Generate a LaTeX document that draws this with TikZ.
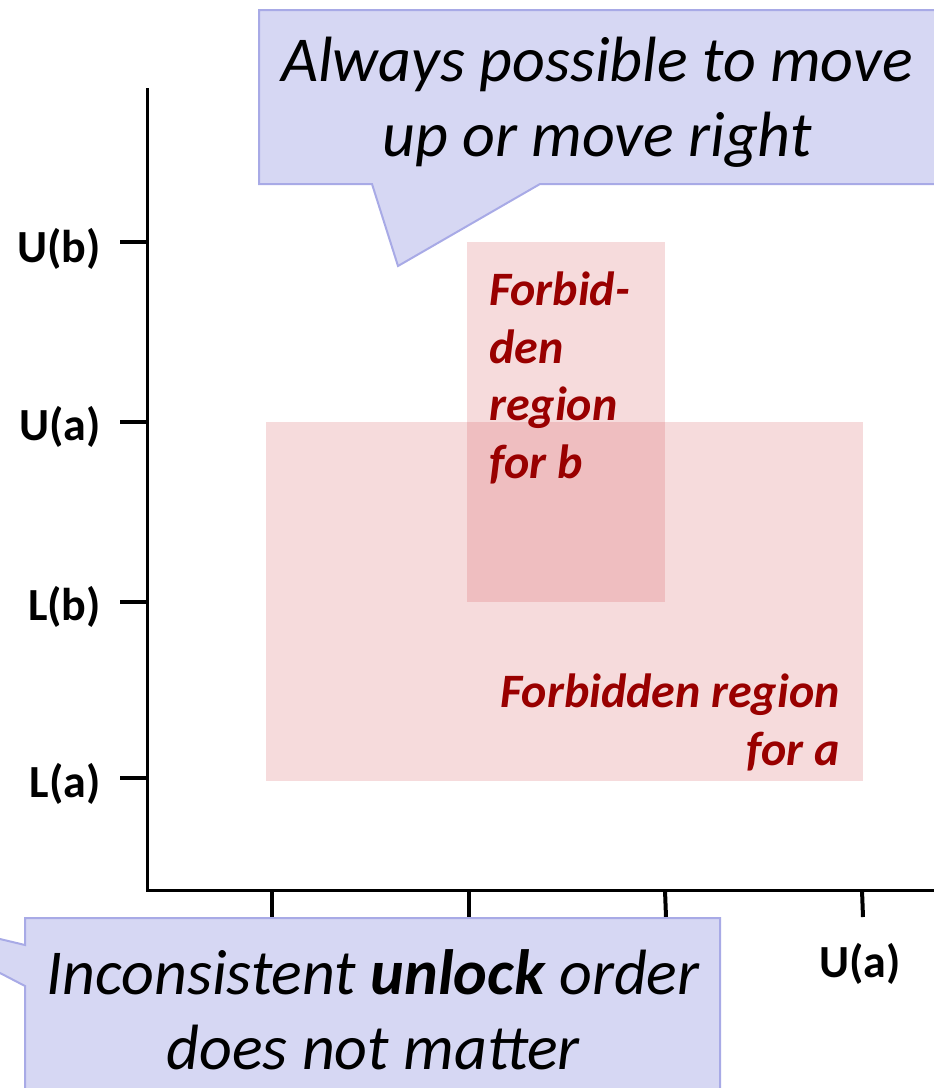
\documentclass[tikz,border=0pt]{standalone}
\usepackage{fontspec}
\setmainfont{Carlito}
\definecolor{callfill}{RGB}{214,215,243}
\definecolor{calldraw}{RGB}{168,170,230}
\definecolor{pinkbox}{RGB}{215,90,94}
\definecolor{forbid}{RGB}{153,0,0}
\tikzset{
  axisline/.style={line width=3pt, black},
  tickline/.style={line width=4pt, black},
  axlab/.style={font=\fontsize{46}{50}\selectfont\bfseries, inner sep=0pt},
  region/.style={fill=pinkbox, fill opacity=0.22, draw=none},
  regtext/.style={font=\fontsize{48}{57.5}\selectfont\bfseries\itshape, text=forbid, inner sep=0pt},
  callout/.style={fill=callfill, draw=calldraw, line width=2pt},
  calltext/.style={font=\fontsize{64}{75}\selectfont\itshape, inner sep=0pt, align=center}
}
\begin{document}
\begin{tikzpicture}[x=1pt,y=-1pt]
\useasboundingbox (0,0) rectangle (934,1088);
\clip (0,0) rectangle (934,1088);
% forbidden regions
\fill[region] (467,242) rectangle (665,602);
\fill[region] (266,422) rectangle (863,781);
\node[regtext, anchor=north west, align=left] (rb) at (489,272) {Forbid-\\den\\region\\for b};
\node[regtext, anchor=north east, align=right] (ra) at (840,674) {Forbidden region\\for a};
% axes
\draw[axisline] (147,88) -- (147,890) -- (940,890);
\draw[tickline] (120,242) -- (147,242);
\draw[tickline] (120,422) -- (147,422);
\draw[tickline] (120,602) -- (147,602);
\draw[tickline] (120,778) -- (147,778);
\draw[tickline] (272,890) -- (272,917);
\draw[tickline] (469,890) -- (469,917);
\draw[tickline] (665,890) -- (666,917);
\draw[tickline] (862,890) -- (863,917);
\node[axlab, anchor=east] (ub) at (101,249) {U(b)};
\node[axlab, anchor=east] (ua) at (101,427) {U(a)};
\node[axlab, anchor=east] (lb) at (101,607) {L(b)};
\node[axlab, anchor=east] (la) at (101,784) {L(a)};
\node[axlab] (uax) at (860,964) {U(a)};
% callouts
\draw[callout] (259,10) -- (950,10) -- (950,184) -- (540,184) -- (398,266) -- (372,184) -- (259,184) -- cycle;
\node[calltext] (c1) at (597,102) {Always possible to move\\up or move right};
\draw[callout] (25,918) -- (720,918) -- (720,1100) -- (25,1100) -- (25,986) -- (-121,910) -- (25,945) -- cycle;
\node[calltext] (c2) at (373,1010) {Inconsistent \textbf{unlock} order\\does not matter};
\end{tikzpicture}
\end{document}
